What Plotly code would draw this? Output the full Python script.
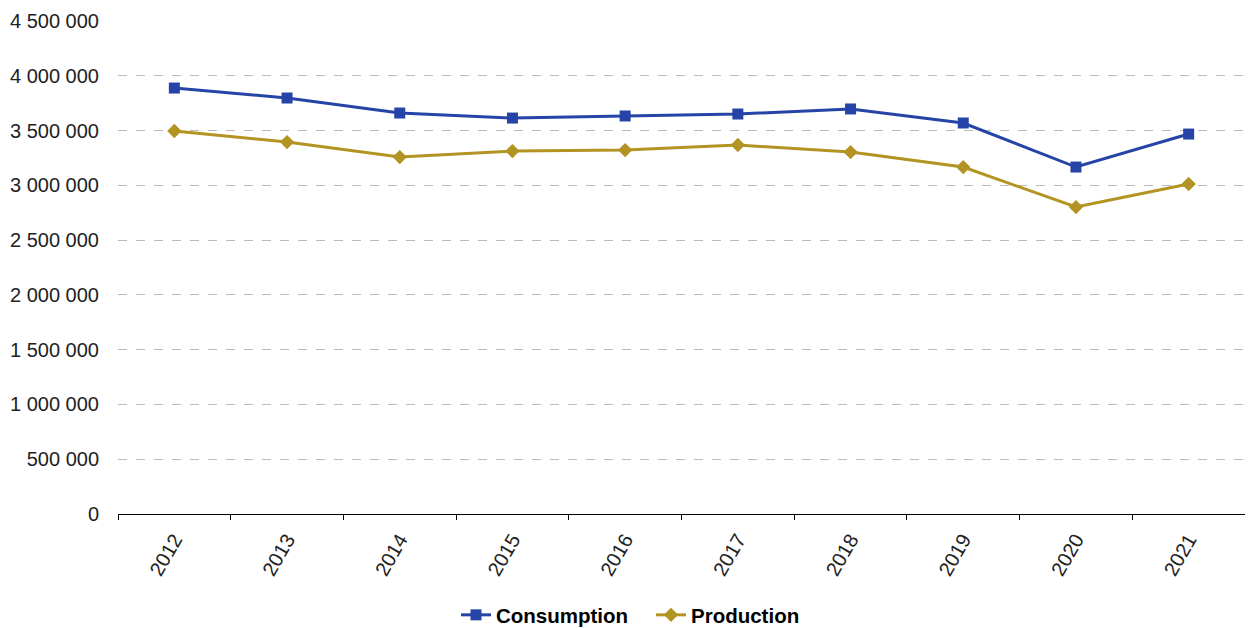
import plotly.graph_objects as go

years = ["2012", "2013", "2014", "2015", "2016", "2017", "2018", "2019", "2020", "2021"]
consumption = [3888000, 3797000, 3660000, 3614000, 3633000, 3651000, 3697000, 3569000, 3167000, 3468000]
production = [3496000, 3395000, 3258000, 3313000, 3322000, 3368000, 3304000, 3167000, 2802000, 3012000]
y_ticks = [0, 500000, 1000000, 1500000, 2000000, 2500000, 3000000, 3500000, 4000000, 4500000]

fig = go.Figure()
fig.add_trace(go.Scatter(x=years, y=consumption, name="Consumption", mode="lines+markers",
                         line=dict(color="#2644A7", width=3),
                         marker=dict(symbol="square", size=11, color="#2644A7")))
fig.add_trace(go.Scatter(x=years, y=production, name="Production", mode="lines+markers",
                         line=dict(color="#B39322", width=3),
                         marker=dict(symbol="diamond", size=11, color="#B39322")))

fig.update_layout(
    width=1237, height=628,
    margin=dict(l=110, r=0, t=13, b=122),
    plot_bgcolor="white", paper_bgcolor="white",
    separators=", ",
    font=dict(family="Liberation Sans, Arial, sans-serif", size=20, color="#222"),
    showlegend=True,
    legend=dict(orientation="h", x=0.2999, xanchor="left", y=-0.2049, yanchor="middle",
                font=dict(size=20.5, color="#000", weight="bold"), itemwidth=30,
                entrywidth=150, entrywidthmode="pixels"),
)
fig.update_xaxes(type="category", tickson="boundaries", ticks="outside", ticklen=5,
                 tickcolor="black", showline=True, linecolor="black", linewidth=1,
                 tickangle=-60, showgrid=False, range=[-0.5, 9.5], automargin=False,
                 ticklabelstandoff=5, tickfont=dict(size=20, color="#222"))
fig.update_yaxes(range=[0, 4500000], tickvals=y_ticks, tickformat=",d",
                 showgrid=True, gridcolor="#bbbbbb", griddash="dash", gridwidth=1,
                 zeroline=False, showline=False, ticks="", ticklabelstandoff=18,
                 automargin=False, tickfont=dict(size=20, color="#222"))

fig.write_html("out.html")
